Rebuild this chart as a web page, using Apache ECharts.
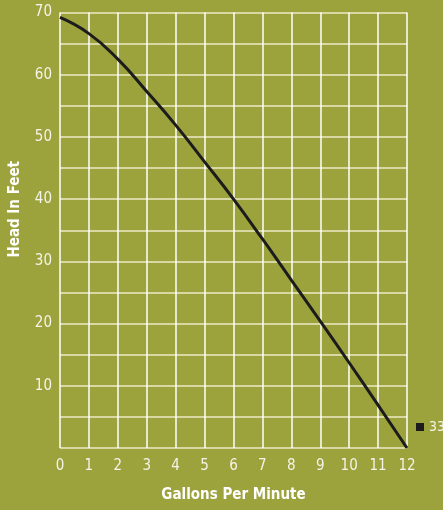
<!DOCTYPE html>
<html>
<head>
<meta charset="utf-8">
<script src="https://cdn.jsdelivr.net/npm/echarts@6/dist/echarts.min.js"></script>
<style>
  html, body { margin: 0; padding: 0; background: #9ca23c; }
  #chart { width: 443px; height: 510px; }
</style>
</head>
<body>
<div id="chart"></div>
<script>
// pump curve data
var gpm = ['0', '1', '2', '3', '4', '5', '6', '7', '8', '9', '10', '11', '12'];
var head335 = [69.2, 66.6, 62.5, 57.3, 51.9, 46.0, 40.0, 33.6, 27.0, 20.4, 13.7, 6.9, 0];
var seriesName = '335';

var font = '"Liberation Sans Narrow", "DejaVu Sans Condensed", "Liberation Sans", sans-serif';

var chart = echarts.init(document.getElementById('chart'));

chart.setOption({
    backgroundColor: '#9ca23c',
    animation: false,
    grid: {
        left: 59,
        right: 36,
        top: 12.5,
        bottom: 62
    },
    legend: {
        data: [seriesName],
        left: 416,
        top: 420,
        padding: 0,
        icon: 'rect',
        itemWidth: 8,
        itemHeight: 8,
        textStyle: { color: '#f4f4e8', fontSize: 14, fontFamily: font }
    },
    xAxis: {
        type: 'value',
        min: 0,
        max: 12,
        interval: 1,
        name: 'Gallons Per Minute',
        nameLocation: 'middle',
        nameGap: 40,
        nameTextStyle: { color: '#ffffff', fontSize: 15, fontWeight: 'bold', fontFamily: font },
        axisLine: { show: false },
        axisTick: { show: false },
        axisLabel: { color: '#f4f4e8', fontSize: 15, fontFamily: font, margin: 11 },
        splitLine: { lineStyle: { color: '#ffffff', width: 1.5 } }
    },
    yAxis: {
        type: 'value',
        min: 0,
        max: 70,
        interval: 5,
        name: 'Head In Feet',
        nameLocation: 'middle',
        nameGap: 37,
        nameTextStyle: { color: '#ffffff', fontSize: 15, fontWeight: 'bold', fontFamily: font, padding: [0, 0, 0, 42] },
        axisLine: { show: false },
        axisTick: { show: false },
        axisLabel: {
            color: '#f4f4e8',
            fontSize: 15,
            fontFamily: font,
            margin: 8,
            formatter: function (v) {
                return (v % 10 === 0 && v > 0) ? v : '';
            }
        },
        splitLine: { lineStyle: { color: '#eceac8', width: 1.5 } }
    },
    series: [{
        name: seriesName,
        type: 'line',
        data: gpm.map(function (g, i) { return [Number(g), head335[i]]; }),
        smooth: 0.5,
        symbol: 'none',
        itemStyle: { color: '#1c1c1c' },
        lineStyle: { color: '#1c1c1c', width: 3 }
    }]
});
</script>
</body>
</html>
